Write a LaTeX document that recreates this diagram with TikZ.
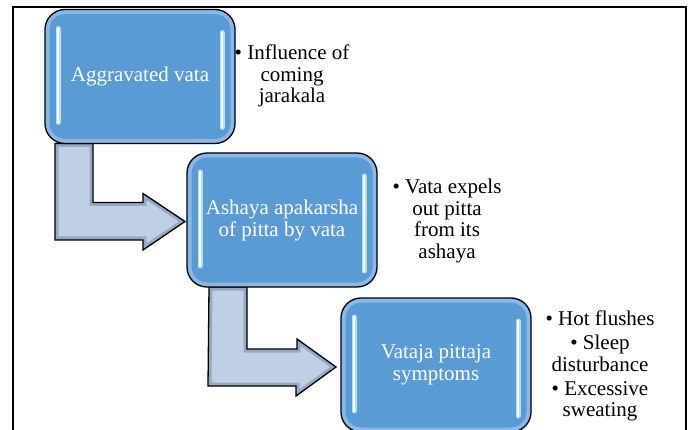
\documentclass[tikz,border=0pt]{standalone}
\usepackage{fontspec}
\setmainfont{Liberation Serif}
\usetikzlibrary{calc,backgrounds}
\definecolor{boxblue}{RGB}{91,155,213}
\definecolor{glowblue}{RGB}{150,195,238}
\definecolor{arrowfill}{RGB}{190,207,230}
\definecolor{arrowedge}{RGB}{120,138,165}
\definecolor{higlow}{RGB}{175,225,250}
\tikzset{
  stagebox/.style={rounded corners=20pt, fill=boxblue, minimum width=190pt,
    minimum height=134pt, text=white, font=\rmfamily\fontsize{21}{22}\selectfont,
    align=center, inner sep=0pt, outer sep=0pt},
  notetext/.style={font=\rmfamily\fontsize{21}{21.5}\selectfont, align=center,
    text=black, inner sep=0pt},
  bentarrow/.style={fill=arrowfill},
  arrowbevel/.style={draw=arrowedge, line width=7pt, opacity=.55},
  arrowline/.style={draw=black, line width=1.3pt, line join=miter},
  boxglow/.style={draw=glowblue, line width=9pt, rounded corners=20pt, opacity=.75},
  boxline/.style={draw=black, line width=1.3pt, rounded corners=20pt},
  hiwide/.style={draw=higlow, line width=5pt, line cap=round},
  hithin/.style={draw=white, line width=2pt, line cap=round},
  frameline/.style={draw=black, line width=2pt}
}
\begin{document}
\begin{tikzpicture}[x=1pt,y=-1pt]
\useasboundingbox (0,0) rectangle (693,430);
\begin{scope}[on background layer]
  \fill[white] (0,0) rectangle (693,430);
\end{scope}
\draw[frameline] (13,445) -- (13,7) -- (686,7) -- (686,445);

% boxes
\node[stagebox] (b1) at (140,76.5) {\raisebox{-3pt}{Aggravated vata}};
\node[stagebox] (b2) at (282,220) {Ashaya apakarsha\\of pitta by vata};
\node[stagebox] (b3) at (436,365) {Vataja pittaja\\symptoms};

\foreach \b in {b1,b2,b3}{
  \begin{scope}
    \clip[rounded corners=20pt] (\b.north west) rectangle (\b.south east);
    \draw[boxglow] (\b.north west) rectangle (\b.south east);
  \end{scope}
  \draw[boxline] (\b.north west) rectangle (\b.south east);
  \draw[hiwide] ($(\b.north west)+(13,19)$) -- ($(\b.south west)+(13,-21)$);
  \draw[hithin] ($(\b.north west)+(13,19)$) -- ($(\b.south west)+(13,-21)$);
  \draw[hiwide] ($(\b.north east)+(-13,23)$) -- ($(\b.south east)+(-13,-16)$);
  \draw[hithin] ($(\b.north east)+(-13,23)$) -- ($(\b.south east)+(-13,-16)$);
}

% bent arrows (behind boxes)
\begin{scope}[on background layer]
  \coordinate (a1s) at ($(b1.south west)+(10,0)$);
  \coordinate (a1t) at ($(b2.west)+(-2,1.5)$);
  \path[bentarrow] (a1s) -- ++(38,0) -- ++(0,59) -- ++(50,0) -- ++(0,-9) -- (a1t)
     -- ++(-42,28.5) -- ++(0,-10) -- ++(-88,0) -- cycle;
  \begin{scope}
    \clip (a1s) -- ++(38,0) -- ++(0,59) -- ++(50,0) -- ++(0,-9) -- (a1t)
     -- ++(-42,28.5) -- ++(0,-10) -- ++(-88,0) -- cycle;
    \draw[arrowbevel] (a1s) -- ++(38,0) -- ++(0,59) -- ++(50,0) -- ++(0,-9) -- (a1t)
     -- ++(-42,28.5) -- ++(0,-10) -- ++(-88,0) -- cycle;
  \end{scope}
  \draw[arrowline] (a1s) -- ++(38,0) -- ++(0,59) -- ++(50,0) -- ++(0,-9) -- (a1t)
     -- ++(-42,28.5) -- ++(0,-10) -- ++(-88,0) -- cycle;

  \coordinate (a2s) at ($(b2.south west)+(22,0)$);
  \coordinate (a2t) at ($(b3.west)+(-5,2)$);
  \path[bentarrow] (a2s) -- ++(38,0) -- ++(0,62) -- ++(50,0) -- ++(0,-10) -- (a2t)
     -- ++(-40,29) -- ++(0,-10) -- ++(-88,0) -- cycle;
  \begin{scope}
    \clip (a2s) -- ++(38,0) -- ++(0,62) -- ++(50,0) -- ++(0,-10) -- (a2t)
     -- ++(-40,29) -- ++(0,-10) -- ++(-88,0) -- cycle;
    \draw[arrowbevel] (a2s) -- ++(38,0) -- ++(0,62) -- ++(50,0) -- ++(0,-10) -- (a2t)
     -- ++(-40,29) -- ++(0,-10) -- ++(-88,0) -- cycle;
  \end{scope}
  \draw[arrowline] (a2s) -- ++(38,0) -- ++(0,62) -- ++(50,0) -- ++(0,-10) -- (a2t)
     -- ++(-40,29) -- ++(0,-10) -- ++(-88,0) -- cycle;
\end{scope}

% notes
\node[notetext] (t1) at (292,76) {• Influence of\\coming\\jarakala};
\node[notetext] (t2) at (447,221) {• Vata expels\\out pitta\\from its\\ashaya};
\node[notetext] (t3) at (600,366) {• Hot flushes\\[2.5pt]• Sleep\\disturbance\\[2.5pt]• Excessive\\sweating};
\end{tikzpicture}
\end{document}
